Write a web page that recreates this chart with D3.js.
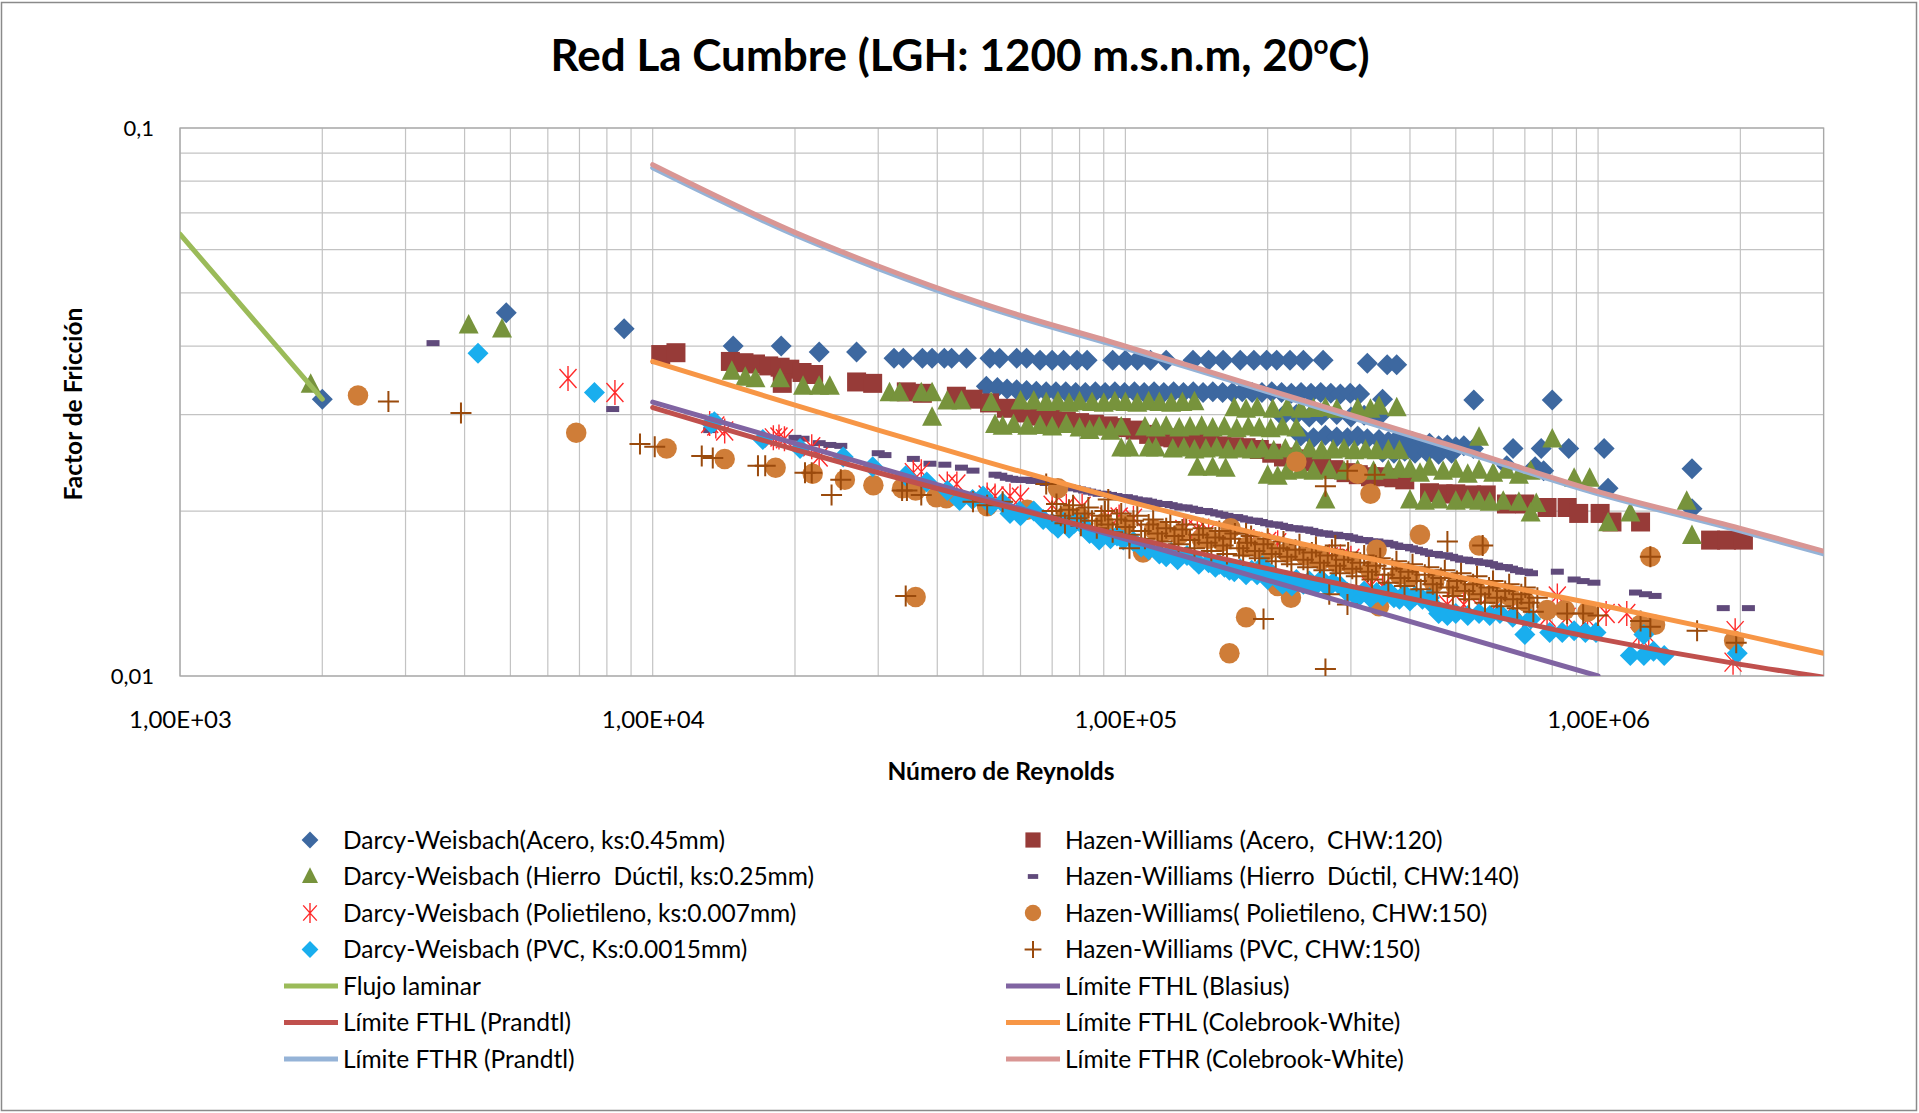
<!DOCTYPE html>
<html>
<head>
  <meta charset="utf-8">
  <title>Red La Cumbre</title>
  <script src="https://d3js.org/d3.v7.min.js"></script>
  <style>
    body { margin: 0; background: #ffffff; }
    text { font-family: Lato, "Open Sans", sans-serif; fill: #000; }
    .grid line { stroke: #c3c3c3; stroke-width: 1.2px; }
    .axis path { display: none; }
    .axis line { display: none; }
  </style>
</head>
<body>
<div id="chart"></div>
<script>

// ---- data: [Reynolds, factor de friccion] ----
var dwAcero = [
  [2.0e3,0.032],[4.9e3,0.046],[8.7e3,0.043],
  [1.48e4,0.040],[1.87e4,0.040],[2.25e4,0.039],[2.70e4,0.039],
  [3.24e4,0.038],[3.39e4,0.038],[3.72e4,0.038],[3.90e4,0.038],[4.14e4,0.038],[4.29e4,0.038],[4.61e4,0.038],
  [5.17e4,0.038],[5.42e4,0.038],[5.89e4,0.038],[6.18e4,0.038],
  [6.6e4,0.0377],[7.0e4,0.0377],[7.4e4,0.0377],[7.9e4,0.0377],[8.3e4,0.0377],
  [9.4e4,0.0377],[1.0e5,0.0377],[1.06e5,0.0377],[1.13e5,0.0377],[1.22e5,0.0377],
  [1.39e5,0.0377],[1.5e5,0.0377],[1.61e5,0.0377],[1.75e5,0.0377],[1.87e5,0.0377],[1.99e5,0.0377],
  [2.09e5,0.0377],[2.23e5,0.0377],[2.38e5,0.0377],[2.62e5,0.0377],[3.25e5,0.0372],[3.58e5,0.0370],[3.75e5,0.0370],
  [5.08e4,0.0338],[5.36e4,0.0336],[5.62e4,0.0334],[5.89e4,0.0333],[6.18e4,0.0332],[6.48e4,0.0331],[6.8e4,0.0330],
  [7.13e4,0.0330],[7.48e4,0.0330],[7.85e4,0.0329],[8.23e4,0.0329],[8.64e4,0.0330],[9.06e4,0.0329],[9.5e4,0.0330],
  [9.96e4,0.0329],[1.045e5,0.0330],[1.096e5,0.0329],[1.15e5,0.0330],[1.206e5,0.0329],[1.265e5,0.0330],[1.327e5,0.0329],
  [1.392e5,0.0330],[1.46e5,0.0329],[1.531e5,0.0330],[1.606e5,0.0329],[1.685e5,0.0329],[1.767e5,0.0330],[1.854e5,0.0329],
  [1.945e5,0.0329],[2.04e5,0.0330],[2.14e5,0.0329],[2.244e5,0.0328],[2.353e5,0.0329],[2.47e5,0.0328],[2.59e5,0.0329],
  [2.72e5,0.0328],[2.85e5,0.0327],[2.99e5,0.0328],[3.13e5,0.0327],
  [2.15e5,0.0298],[2.3e5,0.0300],[2.45e5,0.0297],[2.6e5,0.0299],[2.8e5,0.0300],[3.0e5,0.0297],[3.2e5,0.0299],[3.44e5,0.0298],
  [2.35e5,0.0274],[2.5e5,0.0272],[2.65e5,0.0275],[2.8e5,0.0273],[2.95e5,0.0272],[3.1e5,0.0274],[3.25e5,0.0271],
  [3.44e5,0.0270],[3.6e5,0.0268],[3.75e5,0.0270],[3.9e5,0.0266],[4.05e5,0.0268],[4.2e5,0.0265],[4.4e5,0.0266],
  [4.6e5,0.0263],[4.8e5,0.0264],[5.0e5,0.0262],[5.2e5,0.0263],[5.45e5,0.0260],
  [3.5e5,0.0256],[3.7e5,0.0255],[3.9e5,0.0257],[4.1e5,0.0255],[4.35e5,0.0256],[4.6e5,0.0254],[4.9e5,0.0255],
  [3.5e5,0.0320],[5.46e5,0.0319],[8.0e5,0.0319],[6.41e5,0.0242],[6.61e5,0.0260],[7.36e5,0.0241],[7.58e5,0.0260],
  [7.67e5,0.0237],[8.67e5,0.0260],[1.03e6,0.0260],[1.05e6,0.0220],[1.58e6,0.0239],[1.58e6,0.0202]
];

var hwAcero = [
  [1.04e4,0.0386],[1.12e4,0.0389],
  [1.46e4,0.0375],[1.56e4,0.0373],[1.65e4,0.0371],[1.76e4,0.0368],[1.86e4,0.0366],[1.95e4,0.0363],
  [2.07e4,0.0358],[2.19e4,0.0355],[1.88e4,0.0342],
  [2.70e4,0.0344],[2.92e4,0.0342],[3.44e4,0.0330],[3.72e4,0.0328],[4.39e4,0.0324],[4.76e4,0.0320],
  [5.16e4,0.0315],[5.6e4,0.0308],[6.07e4,0.0302],[6.5e4,0.0298],
  [7.0e4,0.0295],[7.5e4,0.0292],[8.0e4,0.0290],[8.6e4,0.0288],[9.2e4,0.0286],[9.8e4,0.0284],[1.05e5,0.0281],
  [1.12e5,0.0276],[1.19e5,0.0273],[1.26e5,0.0272],[1.34e5,0.0270],[1.42e5,0.0268],[1.51e5,0.0265],[1.6e5,0.0263],
  [1.7e5,0.0262],[1.8e5,0.0261],[1.92e5,0.0259],[2.04e5,0.0255],[2.16e5,0.0251],[2.3e5,0.0249],[2.44e5,0.0246],
  [2.6e5,0.0242],[2.76e5,0.0238],[2.93e5,0.0235],[3.11e5,0.0233],[3.3e5,0.0231],[3.5e5,0.0231],[3.7e5,0.0230],
  [3.9e5,0.0228],[4.4e5,0.0216],[4.7e5,0.0215],[5.0e5,0.0215],[5.4e5,0.0214],[5.8e5,0.0214],
  [6.4e5,0.0206],[7.0e5,0.0206],[7.8e5,0.0203],[8.6e5,0.0203],[9.1e5,0.0198],[1.01e6,0.0198],
  [1.07e6,0.0191],[1.23e6,0.0191],[1.73e6,0.0177],[1.87e6,0.0177],[2.03e6,0.0177]
];

var dwHierro = [
  [1.89e3,0.0340],[4.08e3,0.0436],[4.8e3,0.0429],
  [1.47e4,0.0359],[1.57e4,0.0350],[1.65e4,0.0348],[1.86e4,0.0348],[2.08e4,0.0337],[2.25e4,0.0337],[2.37e4,0.0337],
  [3.17e4,0.0328],[3.33e4,0.0328],[3.7e4,0.0328],[3.9e4,0.0328],[3.9e4,0.0296],[4.2e4,0.0317],[4.5e4,0.0317],
  [5.2e4,0.0315],[5.3e4,0.0287],[5.8e4,0.0287],[6.0e4,0.0317],[6.4e4,0.0317],
  [6.8e4,0.0315],[7.2e4,0.0316],[7.6e4,0.0314],[8.0e4,0.0316],[8.5e4,0.0315],[9.0e4,0.0314],[9.5e4,0.0316],
  [1.0e5,0.0315],[1.06e5,0.0314],[1.12e5,0.0316],[1.18e5,0.0315],[1.25e5,0.0314],[1.32e5,0.0315],[1.4e5,0.0316],
  [1.7e5,0.0308],[1.8e5,0.0306],[1.9e5,0.0308],[2.05e5,0.0306],[2.2e5,0.0308],[2.35e5,0.0306],[2.5e5,0.0307],
  [2.65e5,0.0308],[2.8e5,0.0306],[3.1e5,0.0307],[3.3e5,0.0306],[3.44e5,0.0310],[3.75e5,0.0308],
  [5.5e4,0.0285],[6.2e4,0.0285],[6.6e4,0.0286],[7.0e4,0.0284],[7.5e4,0.0287],[8.0e4,0.0283],[8.4e4,0.0280],
  [8.8e4,0.0284],[9.3e4,0.0279],[9.8e4,0.0284],[1.1e5,0.0284],[1.16e5,0.0283],[1.22e5,0.0285],[1.3e5,0.0283],
  [1.37e5,0.0284],[1.45e5,0.0285],[1.53e5,0.0283],[1.62e5,0.0284],[1.72e5,0.0282],[1.82e5,0.0284],[1.92e5,0.0283],
  [2.03e5,0.0282],[2.15e5,0.0284],[2.3e5,0.0283],
  [9.8e4,0.0260],[1.02e5,0.0260],[1.12e5,0.0260],[1.16e5,0.0260],[1.26e5,0.0259],[1.33e5,0.0260],[1.4e5,0.0258],
  [1.48e5,0.0259],[1.56e5,0.0260],[1.65e5,0.0258],[1.75e5,0.0259],[1.85e5,0.0258],[1.95e5,0.0259],[2.06e5,0.0257],
  [2.18e5,0.0259],[2.3e5,0.0258],[2.45e5,0.0259],[2.6e5,0.0257],[2.75e5,0.0258],[2.9e5,0.0259],[3.05e5,0.0257],
  [3.22e5,0.0258],[3.4e5,0.0257],[3.6e5,0.0258],[3.8e5,0.0257],
  [1.42e5,0.0240],[1.53e5,0.0240],[1.63e5,0.0239],[2.0e5,0.0232],[2.1e5,0.0231],[2.2e5,0.0236],[2.35e5,0.0237],
  [2.5e5,0.0236],[2.7e5,0.0237],[2.9e5,0.0236],[3.1e5,0.0237],[3.35e5,0.0236],[3.6e5,0.0237],[3.8e5,0.0238],
  [4.0e5,0.0238],[4.2e5,0.0234],[4.4e5,0.0240],[4.7e5,0.0236],[5.0e5,0.0238],[5.3e5,0.0233],[5.6e5,0.0237],
  [6.0e5,0.0234],[6.4e5,0.0237],[6.8e5,0.0232],[7.2e5,0.0236],
  [4.0e5,0.0209],[4.3e5,0.0208],[4.6e5,0.0209],[5.0e5,0.0208],[5.3e5,0.0209],[5.6e5,0.0208],[5.9e5,0.0207],
  [6.3e5,0.0208],[6.8e5,0.0207],[7.4e5,0.0206],
  [2.65e5,0.0209],[5.6e5,0.0272],[8.0e5,0.0270],[7.2e5,0.0198],[8.9e5,0.0229],[9.6e5,0.0229],[1.05e6,0.0190],
  [1.17e6,0.0198],[1.54e6,0.0208],[1.58e6,0.0180]
];

var hwHierro = [
  [3.43e3,0.0405],[8.23e3,0.0307],[1.32e4,0.0281],[2.0e4,0.0272],[2.08e4,0.0271],[2.25e4,0.0266],[2.37e4,0.0264],
  [2.5e4,0.0263],[3.0e4,0.0255],[3.1e4,0.0253],[3.56e4,0.0249],[3.86e4,0.0244],[4.15e4,0.0243],[4.5e4,0.0240],
  [4.76e4,0.0237],
  [5.3e4,0.0233],[5.6e4,0.0230],[5.9e4,0.0228],[6.2e4,0.0228],[6.5e4,0.0227],[6.8e4,0.0225],[7.2e4,0.0224],
  [7.6e4,0.0221],[8.0e4,0.0219],[8.4e4,0.0217],[8.8e4,0.0215],[9.3e4,0.0214],[9.8e4,0.0212],[1.03e5,0.0211],
  [1.08e5,0.0209],[1.13e5,0.0208],[1.19e5,0.0206],[1.25e5,0.0205],[1.31e5,0.0203],[1.38e5,0.0202],[1.45e5,0.0200],
  [1.52e5,0.0199],[1.6e5,0.0197],[1.68e5,0.0195],[1.76e5,0.0194],[1.85e5,0.0192],[1.94e5,0.0191],[2.04e5,0.0189],
  [2.14e5,0.0188],[2.25e5,0.0186],[2.36e5,0.0185],[2.48e5,0.0184],[2.6e5,0.0182],[2.73e5,0.0181],[2.87e5,0.0180],
  [3.01e5,0.0179],[3.16e5,0.0177],[3.32e5,0.0176],[3.49e5,0.0175],[3.66e5,0.0174],[3.84e5,0.0172],[4.03e5,0.0171],
  [4.23e5,0.0169],[4.44e5,0.0167],[4.66e5,0.0166],[4.9e5,0.0165],[5.14e5,0.0163],[5.4e5,0.0162],[5.67e5,0.0161],
  [5.95e5,0.0160],[6.25e5,0.0158],[6.56e5,0.0157],[6.89e5,0.0155],[7.23e5,0.0154],
  [5.45e4,0.0232],[5.75e4,0.0229],[6.05e4,0.0228],[6.35e4,0.0227],[6.65e4,0.0226],[7.0e4,0.0225],[7.4e4,0.0222],
  [7.8e4,0.0220],[8.2e4,0.0218],[8.6e4,0.0216],[9.05e4,0.0215],[9.55e4,0.0213],[1.005e5,0.0212],[1.055e5,0.0210],
  [1.105e5,0.0209],[1.16e5,0.0207],[1.22e5,0.0206],[1.28e5,0.0204],[1.345e5,0.0203],[1.415e5,0.0201],[1.485e5,0.0200],
  [1.56e5,0.0198],[1.64e5,0.0196],[1.72e5,0.0195],[1.805e5,0.0193],[1.895e5,0.0192],[1.99e5,0.0190],[2.09e5,0.0189],
  [2.195e5,0.0187],[2.305e5,0.0186],[2.42e5,0.0185],[2.54e5,0.0183],[2.665e5,0.0182],[2.8e5,0.0181],[2.94e5,0.0180],
  [3.085e5,0.0178],[3.24e5,0.0177],[3.405e5,0.0176],[3.575e5,0.0175],[3.75e5,0.0173],[3.935e5,0.0172],[4.13e5,0.0170],
  [4.335e5,0.0168],[4.55e5,0.0167],[4.78e5,0.0166],[5.02e5,0.0164],[5.27e5,0.0163],[5.535e5,0.0162],[5.81e5,0.0161],
  [6.1e5,0.0159],[6.4e5,0.0158],[6.72e5,0.0156],[7.06e5,0.0155],
  [8.2e5,0.0155],[8.9e5,0.0150],[9.3e5,0.0149],[9.8e5,0.0148],[1.20e6,0.0142],[1.26e6,0.0141],[1.32e6,0.0140],
  [1.84e6,0.0133],[2.08e6,0.0133]
];

var dwPoli = [
  [6.62e3,0.0349],[8.32e3,0.0329],[1.32e4,0.0289],[1.36e4,0.0286],[1.42e4,0.0280],[1.80e4,0.0272],[1.85e4,0.0273],
  [1.90e4,0.0271],[2.17e4,0.0262],[2.25e4,0.0251],[3.56e4,0.0235],[3.70e4,0.0236],[4.2e4,0.0224],[4.4e4,0.0224],
  [5.1e4,0.0214],[5.3e4,0.0213],[5.7e4,0.0213],[6.0e4,0.0212],[7.0e4,0.0205],[7.5e4,0.0204],[8.1e4,0.0204],
  [9.2e4,0.0195],[9.7e4,0.0195],[1.04e5,0.0194],[1.33e5,0.0185],[1.42e5,0.0185],[1.5e5,0.0184],[1.87e5,0.0176],
  [2.0e5,0.0176],[2.1e5,0.0175],[2.7e5,0.0165],[2.85e5,0.0165],[3.0e5,0.0164],[3.3e5,0.0146],[3.5e5,0.0146],
  [4.8e5,0.0135],[5.2e5,0.0135],[5.6e5,0.0134],[6.1e5,0.0135],[6.6e5,0.0134],[7.2e5,0.0128],[7.8e5,0.0128],
  [8.2e5,0.0140],[8.6e5,0.0128],[9.5e5,0.0127],[1.04e6,0.0130],[1.15e6,0.0130],[1.22e6,0.0118],[1.28e6,0.0118],
  [1.95e6,0.0121],[1.93e6,0.0106]
];

var hwPoli = [
  [2.38e3,0.0325],[6.89e3,0.0278],[1.07e4,0.0260],[1.42e4,0.0249],[1.82e4,0.0240],[2.18e4,0.0234],[2.55e4,0.0228],
  [2.93e4,0.0223],[3.37e4,0.0220],[3.6e4,0.0218],[3.6e4,0.01394],[3.98e4,0.0212],[4.18e4,0.0211],[5.1e4,0.0204],
  [6.2e4,0.0201],[7.2e4,0.0220],[7.5e4,0.0196],[9.0e4,0.0190],[1.09e5,0.0168],[1.2e5,0.0183],[1.5e5,0.0178],
  [1.66e5,0.0110],[1.67e5,0.0186],[1.8e5,0.0128],[1.9e5,0.0172],[2.1e5,0.0146],[2.24e5,0.0139],[2.3e5,0.0246],
  [2.5e5,0.0165],[3.0e5,0.0160],[3.1e5,0.0234],[3.3e5,0.0215],[3.4e5,0.0170],[3.44e5,0.0134],[4.0e5,0.0152],
  [4.2e5,0.0181],[5.0e5,0.0146],[5.6e5,0.0173],[6.5e5,0.0140],[7.8e5,0.0132],[8.5e5,0.0132],[9.5e5,0.0131],
  [1.23e6,0.0124],[1.29e6,0.0165],[1.32e6,0.0124],[1.94e6,0.0116],
  [8.0e4,0.0195],[1.0e5,0.0189],[1.15e5,0.0185],[1.3e5,0.0181],[1.45e5,0.0178],[1.6e5,0.0176],[1.8e5,0.0172],
  [2.0e5,0.0170],[2.2e5,0.0168],[2.4e5,0.0166],[2.6e5,0.0163],[2.8e5,0.0161],[3.3e5,0.0156],[3.8e5,0.0153],
  [4.5e5,0.0148],[5.5e5,0.0144],[6.0e5,0.0141],[7.0e5,0.0137]
];

var dwPvc = [
  [4.27e3,0.0388],[7.53e3,0.0329],[1.33e4,0.0289],[1.35e4,0.0291],[1.71e4,0.0270],[2.05e4,0.0260],[2.53e4,0.0251],
  [2.92e4,0.0241],[3.43e4,0.0232],[3.8e4,0.0226],[4.46e4,0.0209],[4.75e4,0.0210],[5.0e4,0.0213],[5.5e4,0.0207],
  [5.7e4,0.0198],[5.97e4,0.0200],[6.4e4,0.0200],[7.0e4,0.0190],[7.4e4,0.0191],[7.8e4,0.0190],[8.1e4,0.0189],
  [8.8e4,0.0177],[9.3e4,0.0178],[9.9e4,0.0177],[1.18e5,0.0167],[1.25e5,0.0168],[1.35e5,0.0166],[1.43e5,0.0160],
  [1.5e5,0.0161],[1.58e5,0.0160],[1.66e5,0.0156],[1.75e5,0.0157],[1.85e5,0.0156],[1.95e5,0.0159],[2.0e5,0.0150],
  [2.1e5,0.0150],[2.2e5,0.0149],[2.3e5,0.0150],[2.45e5,0.0149],[2.6e5,0.0150],[2.75e5,0.0148],[3.1e5,0.0139],
  [3.3e5,0.0139],[3.5e5,0.0140],[3.7e5,0.0139],[3.9e5,0.0141],[4.1e5,0.0140],[4.4e5,0.0139],[4.6e5,0.0130],
  [4.8e5,0.0129],[5.0e5,0.0130],[5.3e5,0.0129],[5.6e5,0.0130],[5.9e5,0.0129],[6.2e5,0.0130],[6.6e5,0.0128],
  [7.0e5,0.0119],[7.2e5,0.0127],[7.9e5,0.0120],[8.4e5,0.0120],[8.9e5,0.0121],[9.4e5,0.0120],[9.9e5,0.0120],
  [1.17e6,0.0109],[1.25e6,0.0119],[1.25e6,0.0109],[1.31e6,0.0111],[1.38e6,0.0109],[1.97e6,0.0110],
  [4.2e4,0.0218],[5.2e4,0.0205],[6.0e4,0.0196],[6.7e4,0.0193],[7.2e4,0.0186],[7.6e4,0.0186],[8.4e4,0.0182],
  [9.6e4,0.0180],[1.04e5,0.0176],[1.08e5,0.0172],[1.12e5,0.0170],[1.22e5,0.0165],[1.29e5,0.0163],[1.40e5,0.0163],
  [1.55e5,0.0158],[1.62e5,0.0158],[1.70e5,0.0155],[1.80e5,0.0153],[1.90e5,0.0153],[2.05e5,0.0153],[2.15e5,0.0147],
  [2.25e5,0.0146],[2.38e5,0.0147],[2.52e5,0.0146],[2.68e5,0.0145],[2.85e5,0.0146],[2.95e5,0.0142],[3.2e5,0.0143],
  [3.4e5,0.0142],[3.6e5,0.0143],[3.8e5,0.0138],[4.0e5,0.0137],[4.25e5,0.0138],[4.5e5,0.0134]
];

var hwPvc = [
  [2.76e3,0.0317],[3.93e3,0.0302],[9.4e3,0.0265],[1.01e4,0.0262],[1.27e4,0.0252],[1.34e4,0.0250],[1.67e4,0.0242],
  [1.73e4,0.0242],[2.1e4,0.0235],[2.17e4,0.0235],[2.39e4,0.0214],[2.5e4,0.0228],[3.37e4,0.0218],[3.45e4,0.0218],
  [3.43e4,0.0140],[3.7e4,0.0214],[4.76e4,0.0208],[5.1e4,0.0205],[5.5e4,0.0208],[6.8e4,0.0224],[9.2e4,0.0210],
  [1.02e5,0.0171],[1.8e5,0.0182],[1.96e5,0.0127],[2.65e5,0.0222],[2.65e5,0.0103],[2.7e5,0.0141],[2.78e5,0.0173],
  [2.95e5,0.0237],[2.95e5,0.0135],[3.37e5,0.0233],[4.8e5,0.0176],[5.7e5,0.0173],[8.6e5,0.0130],[9.3e5,0.0130],
  [1.0e6,0.0129],[1.23e6,0.0126],[1.29e6,0.0123],[1.29e6,0.0165],[1.62e6,0.0121],[1.96e6,0.0115],
  [7.0e4,0.0200],[7.3e4,0.0196],[7.6e4,0.0201],[7.9e4,0.0194],[8.2e4,0.0198],[8.5e4,0.0192],[8.9e4,0.0196],
  [9.2e4,0.0189],[9.6e4,0.0193],[1.0e5,0.0187],[1.04e5,0.0192],[1.08e5,0.0184],[1.12e5,0.0189],[1.17e5,0.0182],
  [1.22e5,0.0186],[1.27e5,0.0180],[1.32e5,0.0185],[1.37e5,0.0177],[1.43e5,0.0181],[1.49e5,0.0175],[1.55e5,0.0179],
  [1.61e5,0.0173],[1.67e5,0.0178],[1.74e5,0.0171],[1.81e5,0.0175],[1.88e5,0.0169],[1.96e5,0.0174],[2.04e5,0.0167],
  [2.12e5,0.0171],[2.2e5,0.0165],[2.29e5,0.0170],[2.38e5,0.0163],[2.48e5,0.0168],[2.58e5,0.0161],[2.68e5,0.0166],
  [2.79e5,0.0159],[2.9e5,0.0163],[3.02e5,0.0157],[3.14e5,0.0161],[3.26e5,0.0155],[3.39e5,0.0159],[3.53e5,0.0153],
  [3.67e5,0.0157],[3.82e5,0.0151],[3.97e5,0.0155],[4.13e5,0.0149],[4.3e5,0.0153],[4.47e5,0.0147],[4.65e5,0.0151],
  [4.83e5,0.0145],[5.03e5,0.0149],[5.23e5,0.0143],[5.44e5,0.0147],[5.65e5,0.0141],[5.88e5,0.0145],[6.11e5,0.0139],
  [6.36e5,0.0143],[6.61e5,0.0138],[6.88e5,0.0141],[7.15e5,0.0136],[7.44e5,0.0139],
  [7.15e4,0.0206],[7.45e4,0.0190],[7.75e4,0.0205],[8.05e4,0.0188],[8.35e4,0.0203],[8.7e4,0.0186],[9.05e4,0.0200],
  [9.4e4,0.0183],[9.8e4,0.0198],[1.02e5,0.0181],[1.06e5,0.0196],[1.10e5,0.0178],[1.145e5,0.0193],[1.195e5,0.0176],
  [1.245e5,0.0191],[1.295e5,0.0174],[1.345e5,0.0189],[1.40e5,0.0171],[1.46e5,0.0186],[1.52e5,0.0169],[1.58e5,0.0184],
  [1.64e5,0.0167],[1.705e5,0.0182],[1.775e5,0.0166],[1.845e5,0.0180],[1.92e5,0.0164],[2.0e5,0.0178],[2.08e5,0.0162],
  [2.16e5,0.0176],[2.245e5,0.0160],[2.335e5,0.0174],[2.43e5,0.0158],[2.53e5,0.0172],[2.63e5,0.0156],[2.735e5,0.0170],
  [2.845e5,0.0154],[2.96e5,0.0168],[3.08e5,0.0152],[3.2e5,0.0166],[3.325e5,0.0150],[3.46e5,0.0164],[3.6e5,0.0148],
  [3.745e5,0.0162],[3.895e5,0.0146],[4.05e5,0.0160],[4.215e5,0.0144],[4.385e5,0.0158],[4.56e5,0.0142],[4.74e5,0.0156],
  [4.93e5,0.0140],[5.13e5,0.0154],[5.335e5,0.0138],[5.545e5,0.0152],[5.765e5,0.0136],[5.995e5,0.0149],[6.235e5,0.0134],
  [6.485e5,0.0147],[6.745e5,0.0133],[7.015e5,0.0145],[7.295e5,0.0131]
];

// curves
var lamLine = [[1.0e3,0.064],[2.0e3,0.032]];
var blasiusLine = [[1.0e4,0.0316],[1.0e6,0.0100]];
var prandtlLisoLine = [[1e4,0.0309],[2e4,0.0259],[5e4,0.0209],[1e5,0.0180],[2e5,0.0157],[5e5,0.0133],[1e6,0.0117],[2e6,0.0105],[3e6,0.00995]];
var colebrookLisoLine = [[1e4,0.0375],[2e4,0.0312],[3e4,0.0281],[5e4,0.0247],[1e5,0.0209],[2e5,0.0180],[5e5,0.0152],[1e6,0.0135],[2e6,0.0119],[3e6,0.0110]];
var prandtlRugLine = [[1e4,0.0846],[2e4,0.0638],[3e4,0.0554],[5e4,0.0473],[1e5,0.0396],[2e5,0.0330],[5e5,0.0259],[1e6,0.0215],[2e6,0.0184],[3e6,0.0167]];
var colebrookRugLine = [[1e4,0.0857],[2e4,0.0645],[3e4,0.0560],[5e4,0.0478],[1e5,0.0400],[2e5,0.0333],[5e5,0.0262],[1e6,0.0217],[2e6,0.0186],[3e6,0.0169]];

// tick labels
var xTickValues = [1e3, 1e4, 1e5, 1e6];
var xTickLabels = ["1,00E+03", "1,00E+04", "1,00E+05", "1,00E+06"];
var yTickValues = [0.01, 0.1];
var yTickLabels = ["0,01", "0,1"];

// ---- chart ----
var W = 1919, H = 1113;
var margin = {top: 128, right: 95.4, bottom: 437, left: 180},
    width = W - margin.left - margin.right,
    height = H - margin.top - margin.bottom;

var svg = d3.select("#chart").append("svg")
    .attr("width", W)
    .attr("height", H);

svg.append("rect")
    .attr("x", 1.5).attr("y", 2.5)
    .attr("width", W - 4).attr("height", H - 5)
    .attr("fill", "#fff")
    .attr("stroke", "#8a8a8a")
    .attr("stroke-width", 1.5);

var x = d3.scaleLog().domain([1e3, 3e6]).range([0, width]);
var y = d3.scaleLog().domain([0.01, 0.1]).range([height, 0]);

var g = svg.append("g")
    .attr("transform", "translate(" + margin.left + "," + margin.top + ")");

g.append("clipPath").attr("id", "clip")
  .append("rect").attr("width", width).attr("height", height);

// grid
g.append("g").attr("class", "grid")
  .selectAll("line").data(x.ticks()).enter().append("line")
    .attr("x1", function(d) { return x(d); }).attr("x2", function(d) { return x(d); })
    .attr("y1", 0).attr("y2", height);
g.append("g").attr("class", "grid")
  .selectAll("line").data(y.ticks()).enter().append("line")
    .attr("y1", function(d) { return y(d); }).attr("y2", function(d) { return y(d); })
    .attr("x1", 0).attr("x2", width);
g.append("rect")
    .attr("width", width).attr("height", height)
    .attr("fill", "none").attr("stroke", "#a8a8a8").attr("stroke-width", 1.3);

// axes
g.append("g").attr("class", "axis")
    .attr("transform", "translate(0," + height + ")")
    .call(d3.axisBottom(x).tickValues(xTickValues).tickSize(0).tickPadding(35)
      .tickFormat(function(d, i) { return xTickLabels[i]; }))
    .selectAll("text").style("font-size", "24px").style("font-family", "Lato, sans-serif").attr("fill", "#000");

g.append("g").attr("class", "axis")
    .call(d3.axisLeft(y).tickValues(yTickValues).tickSize(0).tickPadding(26)
      .tickFormat(function(d, i) { return yTickLabels[i]; }))
    .selectAll("text").style("font-size", "22px").style("font-family", "Lato, sans-serif").attr("fill", "#000");

// marker shapes
function markerPath(type, k) {
  k = k || 1;
  var p;
  if (type == "diamond") p = [[0,-10.5],[10.5,0],[0,10.5],[-10.5,0]];
  if (type == "triangle") p = [[0,-11.5],[10,8],[-10,8]];
  if (type == "square") p = [[-9.5,-9.5],[9.5,-9.5],[9.5,9.5],[-9.5,9.5]];
  if (type == "dash") p = [[-6.5,-3],[6.5,-3],[6.5,3],[-6.5,3]];
  if (p) return "M" + p.map(function(q) { return (q[0]*k) + "," + (q[1]*k); }).join("L") + "Z";
  if (type == "circle") return d3.symbol(d3.symbolCircle, 330 * k * k)();
  if (type == "plus") return "M" + (-10.5*k) + ",0H" + (10.5*k) + "M0," + (-10.5*k) + "V" + (10.5*k);
  if (type == "asterisk") return "M" + (-8.5*k) + "," + (-9.5*k) + "L" + (8.5*k) + "," + (9.5*k) +
      "M" + (8.5*k) + "," + (-9.5*k) + "L" + (-8.5*k) + "," + (9.5*k) + "M0," + (-12.5*k) + "V" + (12.5*k);
}
var stroked = {plus: 2, asterisk: 1.4};

var scatter = [
  {name: "Darcy-Weisbach(Acero, ks:0.45mm)", data: dwAcero, type: "diamond", color: "#3d68a0"},
  {name: "Hazen-Williams (Acero,  CHW:120)", data: hwAcero, type: "square", color: "#973b38"},
  {name: "Darcy-Weisbach (Hierro  Dúctil, ks:0.25mm)", data: dwHierro, type: "triangle", color: "#77933c"},
  {name: "Hazen-Williams (Hierro  Dúctil, CHW:140)", data: hwHierro, type: "dash", color: "#604a7b"},
  {name: "Darcy-Weisbach (Polietileno, ks:0.007mm)", data: dwPoli, type: "asterisk", color: "#ff2a2a"},
  {name: "Hazen-Williams( Polietileno, CHW:150)", data: hwPoli, type: "circle", color: "#cf7d38"},
  {name: "Darcy-Weisbach (PVC, Ks:0.0015mm)", data: dwPvc, type: "diamond", color: "#19aeee"},
  {name: "Hazen-Williams (PVC, CHW:150)", data: hwPvc, type: "plus", color: "#9a4a0c"}
];
var curves = [
  {name: "Flujo laminar", data: lamLine, color: "#9bbb59"},
  {name: "Límite FTHL (Blasius)", data: blasiusLine, color: "#8064a2"},
  {name: "Límite FTHL (Prandtl)", data: prandtlLisoLine, color: "#c0504d"},
  {name: "Límite FTHL (Colebrook-White)", data: colebrookLisoLine, color: "#f79646"},
  {name: "Límite FTHR (Prandtl)", data: prandtlRugLine, color: "#95b3d7"},
  {name: "Límite FTHR (Colebrook-White)", data: colebrookRugLine, color: "#d99694"}
];

var plot = g.append("g").attr("clip-path", "url(#clip)");

scatter.forEach(function(s) {
  plot.append("g").selectAll("path")
      .data(s.data)
    .enter().append("path")
      .attr("d", markerPath(s.type))
      .attr("transform", function(d) { return "translate(" + x(d[0]) + "," + y(d[1]) + ")"; })
      .attr("fill", stroked[s.type] ? "none" : s.color)
      .attr("stroke", stroked[s.type] ? s.color : "none")
      .attr("stroke-width", stroked[s.type] || 0);
});

var line = d3.line()
    .x(function(d) { return x(d[0]); })
    .y(function(d) { return y(d[1]); })
    .curve(d3.curveMonotoneX);

curves.forEach(function(c) {
  plot.append("path")
      .datum(c.data)
      .attr("d", line)
      .attr("fill", "none")
      .attr("stroke", c.color)
      .attr("stroke-width", 5)
      .attr("stroke-linecap", "round");
});

// title and axis titles
var title = svg.append("text")
    .attr("x", 960).attr("y", 71)
    .attr("text-anchor", "middle")
    .style("font-size", "44px").style("font-weight", "bold");
title.append("tspan").text("Red La Cumbre (LGH: 1200 m.s.n.m, 20");
title.append("tspan").attr("dy", -17).style("font-size", "26px").text("o");
title.append("tspan").attr("dy", 17).text("C)");

svg.append("text")
    .attr("x", 1001).attr("y", 780)
    .attr("text-anchor", "middle")
    .style("font-size", "24.5px").style("font-weight", "bold")
    .text("Número de Reynolds");

svg.append("text")
    .attr("transform", "translate(82,404) rotate(-90)")
    .attr("text-anchor", "middle")
    .style("font-size", "24.5px").style("font-weight", "bold")
    .text("Factor de Fricción");

// legend
var legendLeft = [scatter[0], scatter[2], scatter[4], scatter[6], curves[0], curves[2], curves[4]];
var legendRight = [scatter[1], scatter[3], scatter[5], scatter[7], curves[1], curves[3], curves[5]];

function drawLegend(items, lineX0, markX, textX) {
  items.forEach(function(it, i) {
    var ly = 840 + i * 36.5;
    var row = svg.append("g");
    if (it.type) {
      row.append("path")
          .attr("d", markerPath(it.type, 0.8))
          .attr("transform", "translate(" + markX + "," + ly + ")")
          .attr("fill", stroked[it.type] ? "none" : it.color)
          .attr("stroke", stroked[it.type] ? it.color : "none")
          .attr("stroke-width", stroked[it.type] || 0);
    } else {
      row.append("line")
          .attr("x1", lineX0).attr("x2", lineX0 + 54)
          .attr("y1", ly).attr("y2", ly)
          .attr("stroke", it.color).attr("stroke-width", 5);
    }
    row.append("text")
        .attr("x", textX).attr("y", ly + 8.5)
        .style("font-size", "24.5px")
        .style("white-space", "pre")
        .text(it.name);
  });
}
drawLegend(legendLeft, 284, 310, 343);
drawLegend(legendRight, 1006, 1033, 1065);

</script>
</body>
</html>
